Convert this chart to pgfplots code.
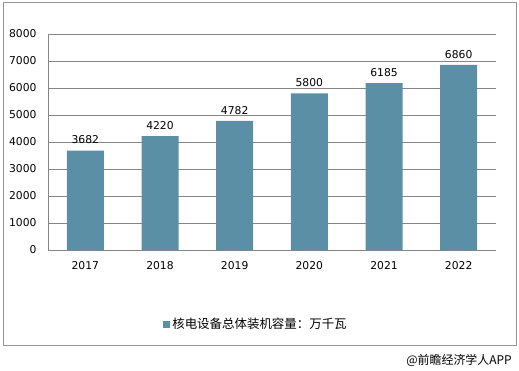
\documentclass[border=0pt]{standalone}
\usepackage{pgfplots}
\pgfplotsset{compat=1.18}
\usepackage{fontspec}
\setmainfont{DejaVu Sans}
\newfontfamily\cjk{Noto Sans CJK SC}
\definecolor{barc}{RGB}{91,143,165}
\definecolor{gridc}{RGB}{134,134,134}
\definecolor{framec}{RGB}{150,150,150}
\begin{document}
\begin{tikzpicture}[x=1bp,y=1bp]
\path[use as bounding box] (0,0) rectangle (519,370);
\draw[framec, line width=0.8bp] (3,25) rectangle (516,368);
\begin{axis}[
  at={(48bp,120bp)}, anchor=south west,
  scale only axis, width=448bp, height=216bp,
  xmin=-0.5, xmax=5.5, ymin=0, ymax=8000,
  ytick={0,1000,...,8000},
  xtick={0,...,5},
  xticklabels={2017,2018,2019,2020,2021,2022},
  scaled y ticks=false,
  /pgf/number format/.cd, 1000 sep={}, assume math mode=true, /pgfplots/.cd,
  axis x line*=bottom, axis y line*=left,
  axis line style={gridc, line width=0.8bp},
  ymajorgrids, grid style={gridc, line width=0.8bp},
  major tick length=0pt,
  tick label style={font=\fontsize{10.8}{13}\selectfont, black},
  yticklabel style={xshift=-8bp},
  xticklabel style={yshift=-8bp},
  ybar, bar width=37bp,
  nodes near coords,
  nodes near coords style={font=\fontsize{10.8}{13}\selectfont, black, yshift=3bp, /pgf/number format/1000 sep={}},
  legend style={at={(0.257,-0.343)}, anchor=west, draw=none, fill=none,
    font=\cjk\fontsize{12.5}{14}\selectfont, inner sep=0pt,
    legend cell align=left},
  legend image code/.code={\fill[barc] (0bp,-3.5bp) rectangle (7bp,3.5bp);},
  clip=false,
]
\addplot[fill=barc, draw=none] coordinates {(0,3682) (1,4220) (2,4782) (3,5800) (4,6185) (5,6860)};
\addlegendentry{核电设备总体装机容量：万千瓦}
\end{axis}
\node[anchor=east, font=\cjk\fontsize{12}{14}\selectfont, inner sep=0pt] at (512,10) {@前瞻经济学人APP};
\end{tikzpicture}
\end{document}
